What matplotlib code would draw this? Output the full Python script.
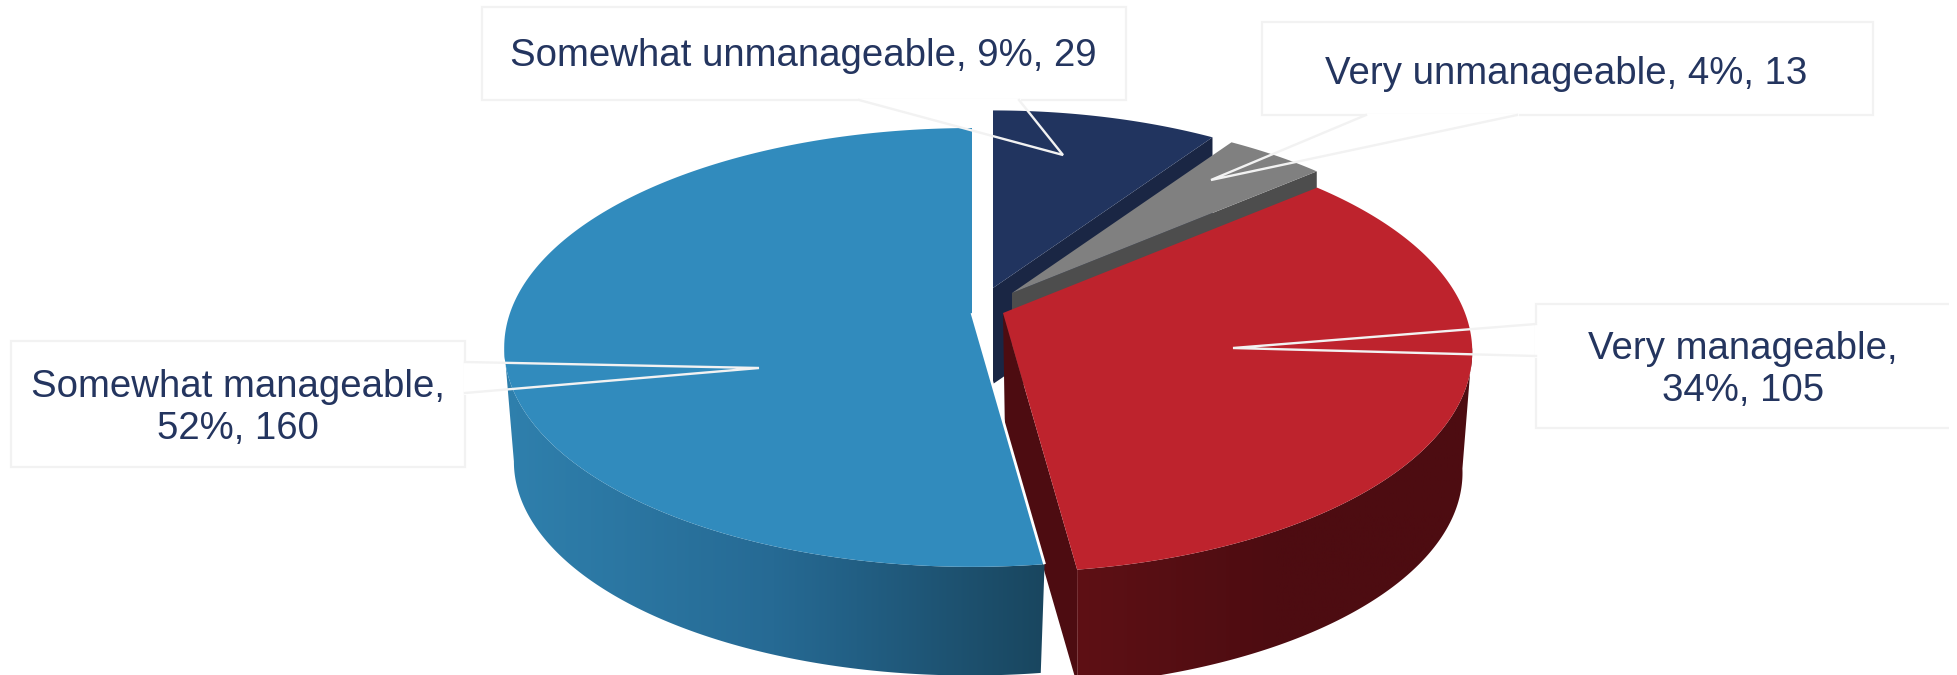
import numpy as np
import matplotlib
matplotlib.use('Agg')
import matplotlib.pyplot as plt
from matplotlib.colors import LinearSegmentedColormap
from matplotlib.patches import Polygon, Rectangle

plt.rcParams['font.family'] = ['Liberation Sans', 'DejaVu Sans']

# order is clockwise from 12 o'clock
categories = ['Somewhat unmanageable', 'Very unmanageable', 'Very manageable', 'Somewhat manageable']
counts = [29, 13, 105, 160]
top_colors = ['#21345f', '#808080', '#be232d', '#318bbd']
side_colors = [['#1a2644', '#1a2644'], ['#4d4d4d', '#4d4d4d'],
               ['#5e1015', '#4d0c11', '#4d0c11'], ['#2f80ad', '#266a94', '#19465f']]
text_color = '#24355f'
callout_color = '#f2f2f2'

W, H = 1958, 675
HALF_W = 462
HALF_H = 214
# outer wall only shows between these angles, the rest is behind the top
WALL_FROM, WALL_TO = 99, 261

fig = plt.figure(figsize=(W / 100, H / 100), dpi=100)
ax = fig.add_axes([0, 0, 1, 1])


def project(theta, apex, scale, persp):
    """pie angle (deg, clockwise from top) -> picture pixels, with a bit of perspective"""
    theta = np.radians(theta)
    px, py = np.sin(theta), np.cos(theta)
    d = 1 + persp * py
    return apex[0] + scale * HALF_W * px / d, apex[1] - scale * HALF_H * py / d


def arc(a, b, apex, scale, persp):
    t = np.linspace(a, b, 200)
    x, y = project(t, apex, scale, persp)
    return np.column_stack([x, y])


# explode offsets of each slice: top apex, scale, bottom apex, bottom scale, perspective
slice_geom = [
    ((993, 288), 0.96, (993, 384), 0.96, 0.157),
    ((1012, 293), 0.96, (1012, 389), 0.96, 0.157),
    ((1003, 313), 1.0, (1005, 435), 0.975, 0.175),
    ((972, 313), 1.0, (970, 428), 0.975, 0.157),
]

total = sum(counts)
edges = np.concatenate([[0], np.cumsum(counts) / total * 360])

for i in range(len(counts)):
    a, b = edges[i], edges[i + 1]
    apex, s, apex_b, s_b, persp = slice_geom[i]
    top = arc(a, b, apex, s, persp)
    low = arc(a, b, apex_b, s_b, persp)
    z = 2 + i

    # cut face on the leading side, the blue one faces away
    if i < 3:
        face = np.array([apex, top[-1], low[-1], apex_b])
        ax.add_patch(Polygon(face, closed=True, fc=side_colors[i][-1], ec='none', zorder=z))

    # outer wall with a left-right gradient
    wa, wb = max(a, WALL_FROM), min(b, WALL_TO)
    if wa < wb:
        top_w = arc(wa, wb, apex, s, persp)
        low_w = arc(wa, wb, apex_b, s_b, persp)
        wall = Polygon(np.vstack([top_w, low_w[::-1]]), closed=True, fc='none', ec='none', zorder=z)
        ax.add_patch(wall)
        cmap = LinearSegmentedColormap.from_list('wall%d' % i, side_colors[i])
        x0, x1 = min(top_w[:, 0].min(), low_w[:, 0].min()), max(top_w[:, 0].max(), low_w[:, 0].max())
        y0, y1 = min(top_w[:, 1].min(), low_w[:, 1].min()), max(top_w[:, 1].max(), low_w[:, 1].max())
        im = ax.imshow(np.linspace(0, 1, 256)[None, :], cmap=cmap, extent=[x0, x1, y1, y0],
                       aspect='auto', zorder=z)
        im.set_clip_path(wall)

    # top of the slice
    ax.add_patch(Polygon(np.vstack([[apex], top]), closed=True, fc=top_colors[i], ec='none', zorder=z + 0.1))

# thin white seam along the blue cut
blue_apex = slice_geom[3][0]
bx, by = project(edges[3], blue_apex, 1.0, slice_geom[3][4])
ax.plot([blue_apex[0], bx], [blue_apex[1], by], color='white', lw=2, zorder=6, solid_capstyle='butt')

# callouts: box, base of the pointer on the box edge, tip of the pointer
box_rects = [(482, 7, 1126, 100), (1262, 22, 1873, 115), (1536, 304, 1975, 428), (11, 341, 465, 467)]
pointer_base = [((859, 100), (1019, 100)), ((1366, 115), (1517, 115)),
                ((1536, 324), (1536, 356)), ((465, 362), (465, 393))]
pointer_tip = [(1063, 155), (1211, 180), (1233, 348), (759, 368)]
label_xy = [(803, 56), (1566, 74), (1743, 370), (238, 408)]
two_lines = [False, False, True, True]

for i in range(len(counts)):
    x0, y0, x1, y1 = box_rects[i]
    ax.add_patch(Rectangle((x0, y0), x1 - x0, y1 - y0, fc='white', ec=callout_color, lw=1.6, zorder=8))
    p, q = pointer_base[i]
    ax.plot([p[0], pointer_tip[i][0], q[0]], [p[1], pointer_tip[i][1], q[1]], color=callout_color,
            lw=1.7, zorder=8.5, solid_joinstyle='miter')
    # open the box edge where the pointer leaves it
    ax.plot([p[0], q[0]], [p[1], q[1]], color='white', lw=2.2, zorder=8.2)

    pct = round(counts[i] / total * 100)
    sep = ',\n' if two_lines[i] else ', '
    label = f"{categories[i]}{sep}{pct}%, {counts[i]}"
    ax.text(label_xy[i][0], label_xy[i][1], label, color=text_color, fontsize=27.6, ha='center',
            va='center', linespacing=1.2, zorder=9)

# the right box runs off the cropped picture, its lines stop short of the border
ax.add_patch(Rectangle((1949, 290), 20, 150, fc='white', ec='none', zorder=8.6))

ax.set_xlim(0, W)
ax.set_ylim(H, 0)
ax.axis('off')

fig.savefig('out.png', dpi=100)
plt.close(fig)
